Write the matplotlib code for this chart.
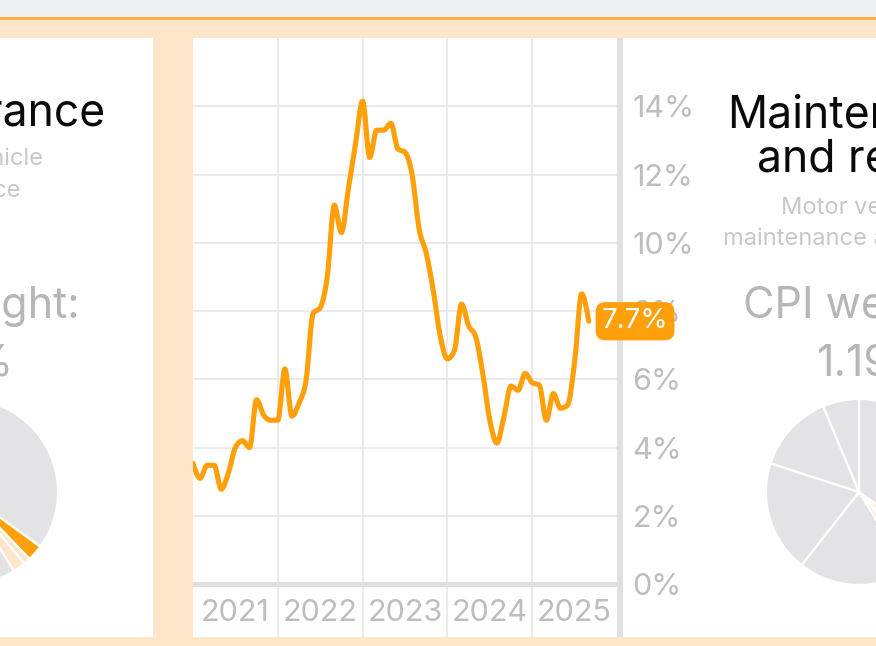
import matplotlib
matplotlib.use("Agg")
import matplotlib.pyplot as plt
from matplotlib.patches import Rectangle, PathPatch
from matplotlib.path import Path
import numpy as np

# ---------------- data ----------------
years = ["2021", "2022", "2023", "2024", "2025"]
# monthly CPI change (%), Jan 2021 .. Sep 2025
cpi_2021 = [3.54, 3.1, 3.48, 3.48, 2.78, 3.25, 4.0, 4.2, 4.0, 5.4, 4.95, 4.8]
cpi_2022 = [4.8, 6.3, 4.92, 5.3, 5.97, 7.93, 8.1, 9.0, 11.1, 10.3, 11.6, 12.9]
cpi_2023 = [14.15, 12.5, 13.3, 13.3, 13.5, 12.75, 12.65, 12.0, 10.4, 9.7, 8.6, 7.25]
cpi_2024 = [6.6, 6.85, 8.2, 7.57, 7.25, 6.17, 4.8, 4.13, 4.9, 5.8, 5.68, 6.17]
cpi_2025 = [5.9, 5.83, 4.8, 5.58, 5.15, 5.24, 6.5, 8.5, 7.7]
values = cpi_2021 + cpi_2022 + cpi_2023 + cpi_2024 + cpi_2025
months = list(range(len(values)))
y_ticks = [0, 2, 4, 6, 8, 10, 12, 14]

# pie: CPI weights (%) of components, clockwise from top
pie_weights = [35.0, 2.8, 1.19, 2.2, 19.4, 19.4, 13.7, 6.3]
pie_roles_left = ["o", "hi", "sub", "sub", "o", "o", "o", "o"]
pie_roles_right = ["o", "sub", "hi", "sub", "o", "o", "o", "o"]

left_title = "Insurance"
left_sub = ["Motor vehicle", "insurance"]
left_weight = "2.80%"
right_title = ["Maintenance", "and repair"]
right_sub = ["Motor vehicle", "maintenance and repair"]
right_weight = "1.19%"

# ---------------- style ----------------
ORANGE = "#FF9F0A"
PEACH = "#FFE5CA"
PIE_GRAY = "#E3E3E6"
GRID = "#E6E6E9"
AXIS = "#E0E0E3"
TICK = "#BDBDC2"
SUB = "#C7C7CC"
WEIGHT = "#B5B5BA"
role_col = {"o": PIE_GRAY, "hi": ORANGE, "sub": PEACH}

plt.rcParams["font.family"] = ["Inter", "DejaVu Sans"]

W, H = 876, 646
fig = plt.figure(figsize=(W / 100, H / 100), dpi=100)
fig.patch.set_facecolor(PEACH)


def fy(y):
    return H - y


def monotone_path(x, y):
    """Smooth monotone-x cubic Bezier path through the data points."""
    x = np.asarray(x, float)
    y = np.asarray(y, float)
    n = len(x)
    h = np.diff(x)
    s = np.diff(y) / h
    t = np.zeros(n)
    for i in range(1, n - 1):
        p = (s[i - 1] * h[i] + s[i] * h[i - 1]) / (h[i - 1] + h[i])
        t[i] = (np.sign(s[i - 1]) + np.sign(s[i])) * min(abs(s[i - 1]), abs(s[i]), 0.5 * abs(p))
    t[0] = (3 * s[0] - t[1]) / 2
    t[-1] = (3 * s[-1] - t[-2]) / 2
    verts = [(x[0], y[0])]
    codes = [Path.MOVETO]
    for i in range(n - 1):
        d = h[i] / 3
        verts += [(x[i] + d, y[i] + d * t[i]),
                  (x[i + 1] - d, y[i + 1] - d * t[i + 1]),
                  (x[i + 1], y[i + 1])]
        codes += [Path.CURVE4] * 3
    return Path(verts, codes)


bg = fig.add_axes([0, 0, 1, 1])
bg.set_facecolor(PEACH)

# top strip and panels
bg.add_patch(Rectangle((0, fy(17)), W, 17, fc="#EFF0F4", ec="none", zorder=0))
bg.add_patch(Rectangle((0, fy(19.5)), W, 2.5, fc="#F6B045", ec="none", zorder=0))
bg.add_patch(Rectangle((0, fy(637)), 153, 599, fc="white", ec="none", zorder=0))
bg.add_patch(Rectangle((623, fy(637)), W - 623, 599, fc="white", ec="none", zorder=0))
bg.add_patch(Rectangle((617, fy(637)), 6, 599, fc=AXIS, ec="none", zorder=0))

# pies
for cx, roles in [(-35, pie_roles_left), (859, pie_roles_right)]:
    bg.pie(pie_weights, colors=[role_col[r] for r in roles], center=(cx, fy(492)),
           radius=93, startangle=90, counterclock=False, frame=True,
           wedgeprops=dict(edgecolor="white", linewidth=1.6))

# left panel text (cut by left edge)
bg.text(105, fy(125), left_title, ha="right", va="baseline", fontsize=32, color="#0A0A0A")
bg.text(43, fy(165), left_sub[0], ha="right", va="baseline", fontsize=17, color=SUB)
bg.text(21, fy(197), left_sub[1], ha="right", va="baseline", fontsize=17, color=SUB)
bg.text(80, fy(318), "CPI weight:", ha="right", va="baseline", fontsize=31, color=WEIGHT)
bg.text(14, fy(375), left_weight, ha="right", va="baseline", fontsize=31, color=WEIGHT)

# right panel text (cut by right edge)
bg.text(727, fy(127), right_title[0], ha="left", va="baseline", fontsize=32, color="#0A0A0A")
bg.text(757, fy(172), right_title[1], ha="left", va="baseline", fontsize=32, color="#0A0A0A")
bg.text(781, fy(214), right_sub[0], ha="left", va="baseline", fontsize=17, color=SUB)
bg.text(723, fy(245), right_sub[1], ha="left", va="baseline", fontsize=17, color=SUB)
bg.text(743, fy(318), "CPI weight:", ha="left", va="baseline", fontsize=31, color=WEIGHT)
bg.text(817, fy(375), right_weight, ha="left", va="baseline", fontsize=31, color=WEIGHT)

bg.set_xlim(0, W)
bg.set_ylim(0, H)
bg.set_aspect("auto")
bg.axis("off")

# ---------------- line chart ----------------
ax = fig.add_axes([193 / W, (H - 637) / H, 424 / W, 599 / H])
ax.set_facecolor("white")
ax.set_xlim(0, 12 * len(years))
ax.set_ylim(-1.552, 16.0)
for s in ax.spines.values():
    s.set_visible(False)

ax.set_xticks([12 * i for i in range(1, len(years))])
ax.set_xticklabels([])
ax.set_yticks(y_ticks)
ax.set_yticklabels([f"{t}%" for t in y_ticks])
ax.yaxis.tick_right()
ax.tick_params(axis="both", length=0)
ax.tick_params(axis="y", pad=11, labelsize=22, labelcolor=TICK)
ax.grid(True, color=GRID, linewidth=1.1)
ax.set_axisbelow(True)
ax.axhline(0, color=AXIS, linewidth=3.6, zorder=2)

for i, yr in enumerate(years):
    ax.text(12 * i + 6, -0.86, yr, ha="center", va="center", fontsize=22, color=TICK)

ax.add_patch(PathPatch(monotone_path(months, values), fill=False, edgecolor=ORANGE,
                       linewidth=3.7, capstyle="round", joinstyle="round", zorder=4))

ax.annotate(f"{values[-1]:.1f}%", xy=(months[-1], values[-1]), xytext=(13, 0),
            textcoords="offset pixels", ha="left", va="center", fontsize=20,
            color="white", annotation_clip=False, zorder=6,
            bbox=dict(boxstyle="round,pad=0.22,rounding_size=0.35", fc=ORANGE, ec="none"))

fig.savefig("out.png", dpi=100, facecolor=PEACH)
